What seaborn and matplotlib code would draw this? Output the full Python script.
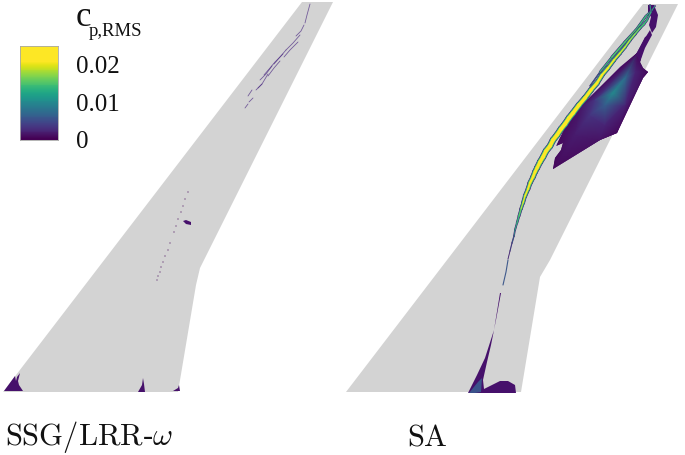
import numpy as np
import matplotlib
matplotlib.use("Agg")
import matplotlib.pyplot as plt
from matplotlib.collections import LineCollection
from matplotlib.tri import Triangulation
import seaborn as sns

wing_left_x = [3, 302, 333, 200, 196, 178, 3]
wing_left_y = [392, 2, 2, 268, 285, 392, 392]
wing_right_x = [346, 643, 678, 550, 540, 521, 346]
wing_right_y = [392, 4, 4, 260, 277, 392, 392]

# SA: main shock band
band_x = [508, 510, 512, 514, 515, 517, 519, 521, 523, 525, 528, 530, 533, 535, 537, 540, 543, 546, 550, 553, 557, 561, 565, 569, 573, 579, 585, 591, 597, 602, 608, 614, 620, 625, 630, 635, 640, 644, 647, 651, 650]
band_y = [259, 251, 243, 236, 230, 223, 216, 209, 203, 196, 189, 183, 177, 172, 168, 162, 157, 151, 146, 140, 135, 129, 124, 118, 113, 105, 98, 90, 83, 75, 68, 60, 53, 47, 40, 34, 28, 24, 20, 12, 5]
band_w = [0.8, 1, 1.2, 1.5, 1.8, 2.2, 2.7, 3.2, 3.7, 4.2, 4.6, 5, 5.4, 5.7, 6, 6.2, 6.4, 6.5, 6.5, 6.5, 6.5, 6.5, 6.5, 6.5, 6.5, 6.3, 6, 5.8, 5.5, 5, 4.6, 4.3, 4, 3.7, 3.5, 3.2, 3, 2.7, 2.5, 2, 1.5]
split_x = [590, 600, 612, 625, 636, 646, 652, 655]
split_y = [86, 72, 57, 42, 30, 16, 10, 6]
split_w = [1, 2, 2.8, 3, 2.8, 2.5, 2, 1.5]

# SA: separated patch behind the shock
patch_x = [553, 555, 561, 563, 556, 565, 580, 597, 620, 637, 645, 650, 643, 640, 643, 648, 643, 617, 600, 553]
patch_y = [169, 158, 150, 143, 146, 128, 107, 90, 67, 53, 37, 35, 50, 62, 68, 72, 78, 133, 140, 169]
node_x = [553, 575, 600, 617, 605, 625, 648, 635, 625, 613, 605, 595, 590, 580, 560, 637]
node_y = [170, 135, 140, 133, 125, 105, 72, 72, 78, 93, 105, 100, 115, 107, 132, 53]
node_val = [0.0004, 0.0015, 0.001, 0.0004, 0.002, 0.002, 0.0004, 0.002, 0.007, 0.0095, 0.006, 0.003, 0.003, 0.001, 0.0004, 0.0004]

tip_x = [648, 654, 658, 656, 652, 649, 651, 648]
tip_y = [5, 5, 15, 27, 33, 25, 17, 12]
neck_x = [650, 652, 645, 640, 636, 645]
neck_y = [30, 35, 48, 62, 54, 38]

# SA: root region
root_x = [500, 494, 485, 477, 468, 516, 516, 515, 508, 500, 492, 484, 483, 487, 491, 496, 501]
root_y = [293, 330, 358, 375, 393, 393, 393, 385, 381, 381, 385, 389, 380, 362, 345, 320, 293]
root_thin_x = [508, 506, 503]
root_thin_y = [260, 272, 285]
root_core_x = [469, 478, 482, 481, 475]
root_core_y = [393, 382, 378, 392, 393]

# SSG/LRR: spots at the wing root
spot_a_x = [4, 15, 16, 17, 20, 18, 19, 23, 4]
spot_a_y = [391, 376, 381, 377, 373, 381, 385, 391, 391]
spot_b_x = [138, 142, 143, 144, 145, 138]
spot_b_y = [392, 385, 378, 384, 392, 392]
spot_c_x = [173, 178, 179, 180, 173]
spot_c_y = [391, 388, 385, 391, 391]
spot_d_x = [183, 186, 191, 191, 186]
spot_d_y = [221, 220, 222, 225, 224]

# SSG/LRR: thin broken streaks near the tip
streaks = [
    ([310, 307, 305], [4, 15, 23]),
    ([304, 301, 296], [25, 31, 36]),
    ([300, 293, 286], [35, 43, 50]),
    ([283, 275, 270, 264], [54, 62, 68, 75]),
    ([298, 290, 284], [42, 50, 57]),
    ([280, 274, 268], [61, 68, 76]),
    ([286, 280, 274], [50, 57, 64]),
    ([272, 266, 260], [66, 74, 80]),
    ([268, 262, 256], [74, 84, 90]),
    ([252, 248], [90, 96]),
    ([262, 258], [84, 88]),
    ([253, 249], [98, 102]),
    ([248, 245], [104, 108]),
]
# SSG/LRR: row of dots in the middle of the span
dot_x = [188, 185, 183, 181, 178, 176, 174, 170, 168, 165, 163, 161, 160, 158, 157]
dot_y = [192, 199, 206, 212, 219, 226, 232, 243, 250, 256, 262, 267, 272, 276, 280]
dot_val = [0.0003, 0.0003, 0.0004, 0.0003, 0.0003, 0.0004, 0.0003, 0.0004, 0.0003, 0.0003, 0.0004, 0.0003, 0.0004, 0.0003, 0.0006]

cbar_levels = np.arange(0.0245, -0.0005, -0.00025)
cbar_labels = ["0.02", "0.01", "0"]
cbar_label_y = [67, 105, 142]

GREY = "#d3d3d3"
PURPLE = "#46106b"

sns.set_style("white")
plt.rcParams["mathtext.fontset"] = "cm"
plt.rcParams["font.family"] = ["Liberation Serif", "DejaVu Serif"]


def draw_band(ax, xs, ys, widths):
    """Layers the shock band from dark edge to yellow core."""
    pts = np.column_stack([xs, ys])
    segs = np.stack([pts[:-1], pts[1:]], axis=1)
    w = (np.array(widths[:-1]) + np.array(widths[1:])) / 2
    layers = [("#471c70", 0), ("#2c7c8e", 0.8), ("#42be71", 1.5), ("#fde725", 2.8)]
    for col, trim in layers:
        lw = np.clip(w - trim, 0, None) * 0.72
        ax.add_collection(LineCollection(segs, colors=col, linewidths=lw, capstyle="round", zorder=4))


fig = plt.figure(figsize=(6.85, 4.55), dpi=100)
ax = fig.add_axes([0, 0, 1, 1])
ax.set_xlim(0, 685)
ax.set_ylim(455, 0)
ax.axis("off")

ax.fill(wing_left_x, wing_left_y, color=GREY, lw=0, zorder=1)
ax.fill(wing_right_x, wing_right_y, color=GREY, lw=0, zorder=1)

# left wing
for xs, ys in [(spot_a_x, spot_a_y), (spot_b_x, spot_b_y), (spot_c_x, spot_c_y), (spot_d_x, spot_d_y)]:
    ax.fill(xs, ys, color=PURPLE, lw=0, zorder=3)
for xs, ys in streaks:
    sns.lineplot(x=xs, y=ys, ax=ax, sort=False, estimator=None, color="#4b2a82", lw=0.6, alpha=0.7, zorder=3, legend=False)
sns.scatterplot(x=dot_x, y=dot_y, hue=dot_val, palette="viridis", hue_norm=(0, 0.02), s=1.5, linewidth=0,
                alpha=0.45, ax=ax, legend=False, zorder=3)

# right wing
patch = ax.fill(patch_x, patch_y, color=PURPLE, lw=0, zorder=2)[0]
tri = Triangulation(node_x, node_y)
field = ax.tripcolor(tri, node_val, shading="gouraud", cmap="viridis", vmin=0, vmax=0.02, zorder=3)
field.set_clip_path(patch)
ax.fill(tip_x, tip_y, color=PURPLE, lw=0, zorder=3)
ax.fill(neck_x, neck_y, color=PURPLE, lw=0, zorder=3)
ax.fill(root_x, root_y, color=PURPLE, lw=0, zorder=3)
ax.plot(root_thin_x, root_thin_y, color="#3f5a8c", lw=0.8, zorder=3)
ax.fill(root_core_x, root_core_y, color="#3b528b", lw=0, zorder=3)
draw_band(ax, split_x, split_y, split_w)
draw_band(ax, band_x, band_y, band_w)

# colour bar
cax = fig.add_axes([20 / 685, 1 - 140 / 455, 38 / 685, 94 / 455])
sns.heatmap(cbar_levels[:, None], ax=cax, cmap="viridis", vmin=0, vmax=0.0205, cbar=False,
            xticklabels=False, yticklabels=False)
for side in cax.spines.values():
    side.set_visible(True)
    side.set_color("#a8a8a8")
    side.set_linewidth(0.6)

ax.text(76, 26, "c", fontsize=25, va="baseline", color="#111111")
ax.text(89, 36, "p,RMS", fontsize=13.5, va="baseline", color="#111111")
for label, y in zip(cbar_labels, cbar_label_y):
    ax.text(76, y, label, fontsize=18, va="center", color="#111111")

ax.text(5, 445, r"$\mathrm{SSG/LRR}$-$\omega$", fontsize=22, va="baseline", color="#111111")
ax.text(407, 445, r"$\mathrm{SA}$", fontsize=22, va="baseline", color="#111111")

fig.savefig("out.png", dpi=100)
